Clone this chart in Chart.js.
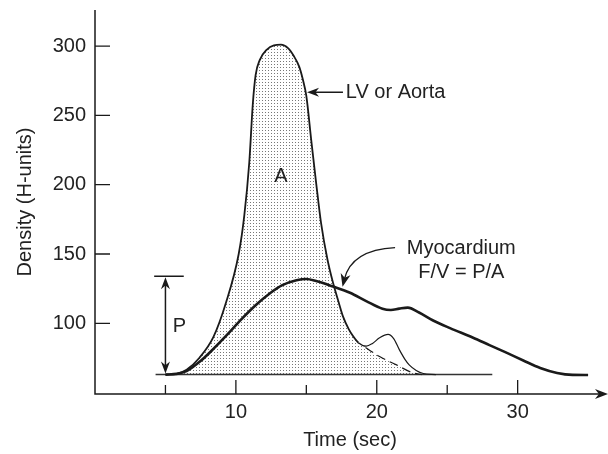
<!DOCTYPE html>
<html>
<head>
<meta charset="utf-8">
<script src="https://cdn.jsdelivr.net/npm/chart.js@4"></script>
<style>
  html, body { margin: 0; padding: 0; background: #fff; }
  #wrap { width: 608px; height: 454px; }
</style>
</head>
<body>
<div id="wrap"><canvas id="chart"></canvas></div>
<script>
// ── DATA ──────────────────────────────────────────────────────────────────────
const xTicks    = [5, 10, 15, 20, 25, 30];
const xLabeled  = [10, 20, 30];
const yTicks    = [100, 150, 200, 250, 300];
const baseLevel = 63;

// LV / aorta curve (with recirculation bump)
const lvTime = [5, 5.8, 6.5, 7.4, 8.4, 9.3, 10.2, 10.6, 10.95, 11.2, 11.4, 11.7, 12.2, 12.7, 13.2, 13.7, 14.1, 14.5, 14.75, 15.0, 15.35, 15.7, 16.05, 16.5, 16.9, 17.3, 17.6, 18.0, 18.3, 18.7, 19.25, 19.7, 20.2, 20.8, 21.2, 21.6, 22.0, 22.3, 22.8, 23.3, 24.2];
const lvVal  = [63, 63.6, 66.5, 75, 90, 115, 150, 178, 216, 258, 279, 290, 297.5, 300.5, 301, 298.5, 293, 285, 276, 264, 232, 201, 172, 146, 129, 115, 105, 96, 91, 86, 83.5, 85.5, 89.5, 92, 89, 81, 74, 70, 66, 63.8, 63];

// extrapolated first pass (dashed) used for the shaded area A
const passTime = [19.2, 20.2, 21.4, 22.5, 23.2];
const passVal  = [82.5, 76, 70, 64.5, 63];

// myocardium curve
const myoTime = [5, 5.8, 6.5, 7.4, 8.4, 9.4, 10.4, 11.4, 12.4, 13.3, 14.3, 15.0, 15.7, 16.9, 18.1, 19.25, 20.4, 21.0, 21.6, 22.2, 23.0, 24.0, 25.2, 26.8, 28.0, 29.2, 30.4, 31.6, 32.8, 33.9, 35.0];
const myoVal  = [63, 63.5, 65.5, 72, 81.5, 92, 103, 113, 121.5, 127.5, 131, 132, 130.5, 126.5, 122, 116, 110.5, 109.6, 110.6, 111.3, 107.8, 102, 96.5, 89.8, 84.3, 78.8, 73.2, 67.8, 64.2, 62.8, 62.7];

const baseTime = [4.3, 28.2];

// P bracket
const pTime = 5, pTop = 134, pCapFrom = 4.2, pCapTo = 6.3;

// ── HELPERS ───────────────────────────────────────────────────────────────────
const pts = (xs, ys) => xs.map((x, i) => ({ x, y: ys[i] }));
const INK = '#1a1a1a';
const FONT = '"Liberation Sans", Arial, Helvetica, sans-serif';

function stipple() {
  const c = document.createElement('canvas');
  c.width = 3; c.height = 3;
  const g = c.getContext('2d');
  g.fillStyle = '#fff'; g.fillRect(0, 0, 3, 3);
  g.fillStyle = '#777'; g.fillRect(1, 1, 1, 1);
  return g.createPattern(c, 'repeat');
}

function head(ctx, tx, ty, ang, len, half) {
  ctx.save();
  ctx.translate(tx, ty);
  ctx.rotate(ang);
  ctx.beginPath();
  ctx.moveTo(0, 0);
  ctx.lineTo(-len, -half);
  ctx.lineTo(-len * 0.7, 0);
  ctx.lineTo(-len, half);
  ctx.closePath();
  ctx.fill();
  ctx.restore();
}

// ── OVERLAY: axes, inward ticks, annotations ─────────────────────────────────
const overlay = {
  id: 'overlay',
  afterDraw(chart) {
    const { ctx } = chart;
    const xs = chart.scales.x, ys = chart.scales.y;
    const X = v => xs.getPixelForValue(v), Y = v => ys.getPixelForValue(v);
    const left = xs.left, bottom = ys.bottom;
    ctx.save();
    ctx.strokeStyle = INK; ctx.fillStyle = INK;
    ctx.lineWidth = 1.5;

    // axes
    ctx.beginPath();
    ctx.moveTo(left, ys.top); ctx.lineTo(left, bottom);
    ctx.lineTo(xs.right - 4, bottom);
    ctx.stroke();
    head(ctx, xs.right + 3, bottom, 0, 13, 5);

    // ticks
    ctx.lineWidth = 1.3;
    ctx.beginPath();
    xTicks.forEach(t => {
      const len = xLabeled.includes(t) ? 14 : 9;
      ctx.moveTo(X(t), bottom); ctx.lineTo(X(t), bottom - len);
    });
    yTicks.forEach(v => { ctx.moveTo(left, Y(v)); ctx.lineTo(left + 15, Y(v)); });
    ctx.stroke();

    // P bracket
    ctx.lineWidth = 1.5;
    ctx.beginPath();
    ctx.moveTo(X(pCapFrom), Y(pTop)); ctx.lineTo(X(pCapTo), Y(pTop));
    ctx.moveTo(X(pTime), Y(pTop) + 8); ctx.lineTo(X(pTime), Y(baseLevel) - 8);
    ctx.stroke();
    head(ctx, X(pTime), Y(pTop) + 1, -Math.PI / 2, 12, 4.5);
    head(ctx, X(pTime), Y(baseLevel) - 1, Math.PI / 2, 12, 4.5);

    // LV arrow
    ctx.beginPath();
    ctx.moveTo(X(17.6), Y(266.7)); ctx.lineTo(X(15.3), Y(266.7));
    ctx.stroke();
    head(ctx, X(15.05), Y(266.7), Math.PI, 12, 4.5);

    // Myocardium curved arrow
    const sx = X(21.3), sy = Y(154.6), cx = X(18.2), cy = Y(153), ex = X(17.57), ey = Y(126.4);
    ctx.lineWidth = 1.4;
    ctx.beginPath();
    ctx.moveTo(sx, sy);
    ctx.quadraticCurveTo(cx, cy, ex + (cx - ex) * 0.2, ey + (cy - ey) * 0.2);
    ctx.stroke();
    head(ctx, ex, ey, Math.atan2(ey - cy, ex - cx), 13, 5);

    // labels
    ctx.font = '20px ' + FONT;
    ctx.fillStyle = '#222';
    ctx.textBaseline = 'middle';
    ctx.textAlign = 'center';
    ctx.fillText('A', X(13.2), Y(206));
    ctx.fillText('P', X(6.0), Y(97.6));
    ctx.fillText('Myocardium', X(26.0), Y(153.9));
    ctx.fillText('F/V = P/A', X(26.0), Y(136.6));
    ctx.textAlign = 'left';
    ctx.fillText('LV or Aorta', X(17.8), Y(266.7));
    ctx.restore();
  }
};

// ── CHART ─────────────────────────────────────────────────────────────────────
new Chart(document.getElementById('chart'), {
  type: 'line',
  data: {
    datasets: [
      { data: pts(myoTime, myoVal), borderColor: INK, borderWidth: 2.6, cubicInterpolationMode: 'monotone', fill: false },
      { data: pts(lvTime, lvVal), borderColor: INK, borderWidth: 1.8, cubicInterpolationMode: 'monotone', fill: false,
        segment: { borderWidth: c => c.p0.parsed.x >= 18.7 ? 1.2 : 1.8 } },
      { data: pts(passTime, passVal), borderColor: INK, borderWidth: 1.2, borderDash: [9, 5], cubicInterpolationMode: 'monotone', fill: false },
      { data: pts(baseTime, [baseLevel, baseLevel]), borderColor: '#333', borderWidth: 1.5, fill: false },
      { data: pts(lvTime.filter(t => t < 19).concat(passTime), lvVal.filter((v, i) => lvTime[i] < 19).concat(passVal)),
        borderWidth: 0, borderColor: 'rgba(0,0,0,0)', backgroundColor: stipple(),
        cubicInterpolationMode: 'monotone', fill: { value: baseLevel } }
    ]
  },
  options: {
    responsive: true,
    maintainAspectRatio: false,
    animation: false,
    layout: { padding: { top: 10, right: 3, left: 0, bottom: 0 } },
    elements: { point: { radius: 0 } },
    plugins: { legend: { display: false }, tooltip: { enabled: false } },
    scales: {
      x: {
        type: 'linear', min: 0, max: 36.2,
        grid: { display: false, drawTicks: false }, border: { display: false },
        afterBuildTicks: s => { s.ticks = xTicks.map(v => ({ value: v })); },
        afterFit: s => { s.height = 60; s.paddingLeft = 0; s.paddingRight = 0; },
        ticks: { padding: 6, color: '#222', font: { family: FONT, size: 20 }, maxRotation: 0, autoSkip: false,
                 callback: v => xLabeled.includes(v) ? v : '' },
        title: { display: true, text: 'Time (sec)', color: '#222', font: { family: FONT, size: 20 }, padding: { top: 0, bottom: 2 } }
      },
      y: {
        min: 49, max: 326,
        grid: { display: false, drawTicks: false }, border: { display: false },
        afterBuildTicks: s => { s.ticks = yTicks.map(v => ({ value: v })); },
        afterFit: s => { s.width = 95; s.paddingTop = 0; s.paddingBottom = 0; },
        ticks: { padding: 9, color: '#222', font: { family: FONT, size: 20 } },
        title: { display: true, text: 'Density (H-units)', color: '#222', font: { family: FONT, size: 20 }, padding: { top: 13, bottom: 0 } }
      }
    }
  },
  plugins: [overlay]
});
</script>
</body>
</html>
